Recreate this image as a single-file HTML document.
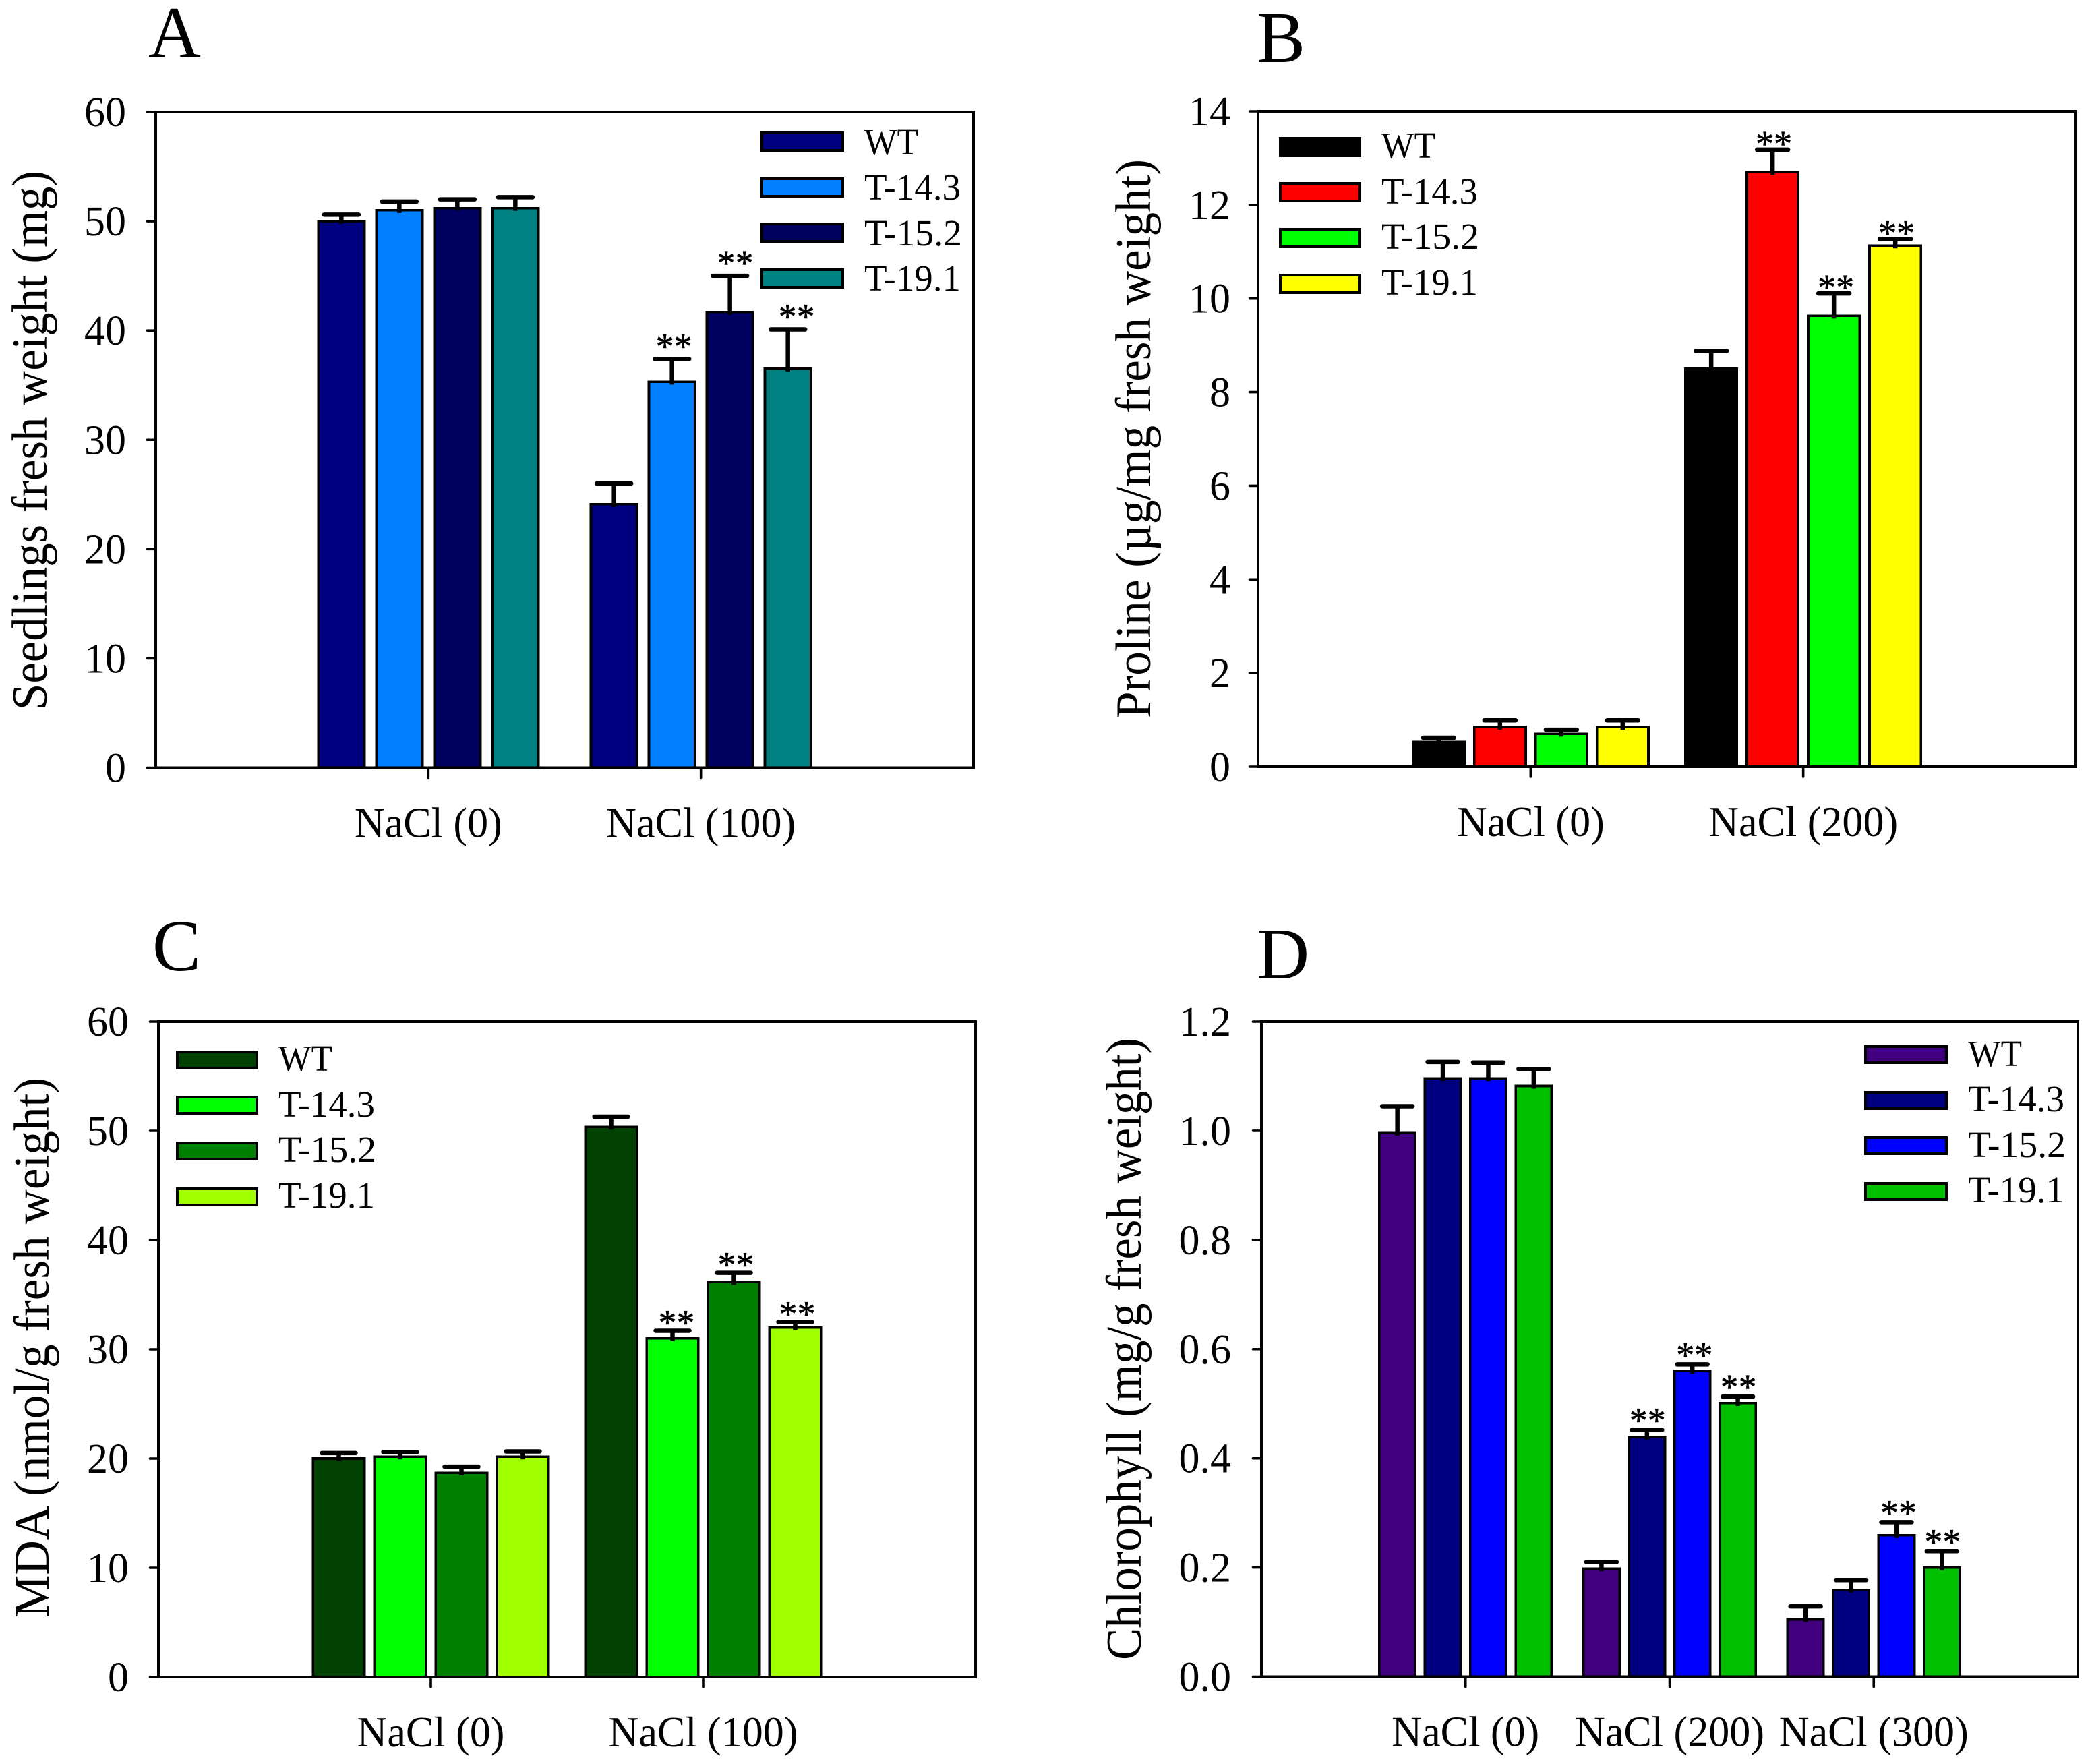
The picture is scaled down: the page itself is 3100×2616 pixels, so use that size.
<!DOCTYPE html>
<html lang="en">
<head>
<meta charset="utf-8">
<title>Seedling salt stress bar charts</title>
<style>
html,body{margin:0;padding:0;background:#fff;}
svg{display:block;}
text{font-family:"Liberation Serif",serif;fill:#000;}
.letter{font-size:108px;}
.title{font-size:74px;}
.leg{font-size:55px;}
.tick{font-size:62px;text-anchor:end;}
.cat{font-size:64px;text-anchor:middle;}
.star{font-size:54px;text-anchor:middle;stroke:#000;stroke-width:0.6;}
.sw{stroke:#000;stroke-width:3.6;shape-rendering:crispEdges;}
.frame{fill:none;stroke:#000;stroke-width:3.6;shape-rendering:crispEdges;}
</style>
</head>
<body>
<svg id="fig" xmlns="http://www.w3.org/2000/svg" width="3100" height="2616" viewBox="0 0 3100 2616">
<rect width="3100" height="2616" fill="#fff"/>

<g id="panel-a">
<text class="letter" x="220" y="84">A</text>
<text class="title" x="69" y="1053" transform="rotate(-90 69 1053)" textLength="800" lengthAdjust="spacingAndGlyphs">Seedlings fresh weight (mg)</text>
<g>
<rect class="sw" x="1130" y="197" width="120" height="26" fill="#000080"/>
<text class="leg" x="1282" y="229" textLength="80" lengthAdjust="spacingAndGlyphs">WT</text>
<rect class="sw" x="1130" y="265" width="120" height="26" fill="#0080ff"/>
<text class="leg" x="1282" y="296" textLength="143" lengthAdjust="spacingAndGlyphs">T-14.3</text>
<rect class="sw" x="1130" y="332" width="120" height="26" fill="#000060"/>
<text class="leg" x="1282" y="364" textLength="145" lengthAdjust="spacingAndGlyphs">T-15.2</text>
<rect class="sw" x="1130" y="400" width="120" height="26" fill="#008080"/>
<text class="leg" x="1282" y="431" textLength="143" lengthAdjust="spacingAndGlyphs">T-19.1</text>
</g>
</g>

<g id="panel-b">
<text class="letter" x="1864" y="92">B</text>
<text class="title" x="1706" y="1065" transform="rotate(-90 1706 1065)" textLength="829" lengthAdjust="spacingAndGlyphs">Proline (µg/mg fresh weight)</text>
<g>
<rect class="sw" x="1899" y="205" width="118" height="26" fill="#000000"/>
<text class="leg" x="2049" y="234" textLength="80" lengthAdjust="spacingAndGlyphs">WT</text>
<rect class="sw" x="1899" y="272" width="118" height="26" fill="#ff0000"/>
<text class="leg" x="2049" y="302" textLength="143" lengthAdjust="spacingAndGlyphs">T-14.3</text>
<rect class="sw" x="1899" y="340" width="118" height="26" fill="#00ff00"/>
<text class="leg" x="2049" y="369" textLength="145" lengthAdjust="spacingAndGlyphs">T-15.2</text>
<rect class="sw" x="1899" y="408" width="118" height="26" fill="#ffff00"/>
<text class="leg" x="2049" y="437" textLength="143" lengthAdjust="spacingAndGlyphs">T-19.1</text>
</g>
</g>

<g id="panel-c">
<text class="letter" x="226" y="1439">C</text>
<text class="title" x="72" y="2399" transform="rotate(-90 72 2399)" textLength="801" lengthAdjust="spacingAndGlyphs">MDA (nmol/g fresh weight)</text>
<g>
<rect class="sw" x="263" y="1560" width="118" height="24" fill="#004000"/>
<text class="leg" x="413" y="1588" textLength="80" lengthAdjust="spacingAndGlyphs">WT</text>
<rect class="sw" x="263" y="1627" width="118" height="24" fill="#00ff00"/>
<text class="leg" x="413" y="1656" textLength="143" lengthAdjust="spacingAndGlyphs">T-14.3</text>
<rect class="sw" x="263" y="1695" width="118" height="24" fill="#008000"/>
<text class="leg" x="413" y="1723" textLength="145" lengthAdjust="spacingAndGlyphs">T-15.2</text>
<rect class="sw" x="263" y="1763" width="118" height="24" fill="#a0ff00"/>
<text class="leg" x="413" y="1791" textLength="143" lengthAdjust="spacingAndGlyphs">T-19.1</text>
</g>
</g>

<g id="panel-d">
<text class="letter" x="1864" y="1451">D</text>
<text class="title" x="1692" y="2462" transform="rotate(-90 1692 2462)" textLength="923" lengthAdjust="spacingAndGlyphs">Chlorophyll (mg/g fresh weight)</text>
<g>
<rect class="sw" x="2767" y="1552" width="120" height="24" fill="#400080"/>
<text class="leg" x="2919" y="1581" textLength="80" lengthAdjust="spacingAndGlyphs">WT</text>
<rect class="sw" x="2767" y="1620" width="120" height="24" fill="#000080"/>
<text class="leg" x="2919" y="1648" textLength="143" lengthAdjust="spacingAndGlyphs">T-14.3</text>
<rect class="sw" x="2767" y="1687" width="120" height="24" fill="#0000ff"/>
<text class="leg" x="2919" y="1716" textLength="145" lengthAdjust="spacingAndGlyphs">T-15.2</text>
<rect class="sw" x="2767" y="1755" width="120" height="24" fill="#00c000"/>
<text class="leg" x="2919" y="1783" textLength="143" lengthAdjust="spacingAndGlyphs">T-19.1</text>
</g>
</g>
</svg>

<script>
// ---------- Chart data ----------
const seriesNames = ['WT', 'T-14.3', 'T-15.2', 'T-19.1'];

const aCategories = ['NaCl (0)', 'NaCl (100)'];
const aTicks = ['0', '10', '20', '30', '40', '50', '60'];
const aValues = [[50, 51, 51.2, 51.2], [24.1, 35.3, 41.7, 36.5]];
const aErrors = [[0.6, 0.8, 0.8, 1.0], [1.9, 2.1, 3.3, 3.6]];
const aStars = [[], [1, 2, 3]];

const bCategories = ['NaCl (0)', 'NaCl (200)'];
const bTicks = ['0', '2', '4', '6', '8', '10', '12', '14'];
const bValues = [[0.53, 0.85, 0.7, 0.85], [8.5, 12.7, 9.63, 11.13]];
const bErrors = [[0.09, 0.14, 0.09, 0.14], [0.38, 0.48, 0.48, 0.14]];
const bStars = [[], [1, 2, 3]];

const cCategories = ['NaCl (0)', 'NaCl (100)'];
const cTicks = ['0', '10', '20', '30', '40', '50', '60'];
const cValues = [[20, 20.17, 18.7, 20.17], [50.36, 31, 36.15, 32]];
const cErrors = [[0.5, 0.43, 0.55, 0.48], [0.94, 0.7, 0.85, 0.5]];
const cStars = [[], [1, 2, 3]];

const dCategories = ['NaCl (0)', 'NaCl (200)', 'NaCl (300)'];
const dTicks = ['0.0', '0.2', '0.4', '0.6', '0.8', '1.0', '1.2'];
const dValues = [[0.996, 1.096, 1.096, 1.082], [0.198, 0.439, 0.56, 0.501], [0.105, 0.159, 0.259, 0.2]];
const dErrors = [[0.049, 0.03, 0.029, 0.031], [0.012, 0.013, 0.012, 0.012], [0.024, 0.018, 0.024, 0.03]];
const dStars = [[], [1, 2, 3], [2, 3]];

// ---------- Per-panel series styling and layout ----------
const aColors = ['#000080', '#0080ff', '#000060', '#008080'];
const bColors = ['#000000', '#ff0000', '#00ff00', '#ffff00'];
const cColors = ['#004000', '#00ff00', '#008000', '#a0ff00'];
const dColors = ['#400080', '#000080', '#0000ff', '#00c000'];

const NS = 'http://www.w3.org/2000/svg';

function drawPanel(p) {
  const root = document.getElementById(p.id);
  const yScale = v => p.bottom - (v / p.max) * (p.bottom - p.top);
  const xScale = g => p.left + (g + 1) * (p.right - p.left) / (p.categories.length + 1);

  const marks = document.createElementNS(NS, 'g');
  
  
  root.insertBefore(marks, root.firstChild);

  p.values.forEach((groupValues, g) => {
    groupValues.forEach((value, s) => {
      const cx = xScale(g) + (s - 1.5) * p.step;
      const topY = yScale(value);
      const capY = yScale(value + p.errors[g][s]);

      const stem = document.createElementNS(NS, 'line');
      stem.setAttribute('x1', cx);
      stem.setAttribute('x2', cx);
      stem.setAttribute('y1', topY + 4);
      stem.setAttribute('y2', capY);
      stem.setAttribute('stroke', '#000');
      stem.setAttribute('stroke-width', p.errWidth);
      
      

      const cap = document.createElementNS(NS, 'line');
      cap.setAttribute('x1', cx - p.capHalf);
      cap.setAttribute('x2', cx + p.capHalf);
      cap.setAttribute('y1', capY);
      cap.setAttribute('y2', capY);
      cap.setAttribute('stroke', '#000');
      cap.setAttribute('stroke-width', p.errWidth);
      cap.setAttribute('stroke-linecap', 'round');
      
      

      const bar = document.createElementNS(NS, 'rect');
      bar.setAttribute('x', cx - p.barWidth / 2 + 1.8);
      bar.setAttribute('y', topY);
      bar.setAttribute('width', p.barWidth - 3.6);
      bar.setAttribute('height', p.bottom - topY);
      bar.setAttribute('fill', p.colors[s]);
      bar.setAttribute('stroke', '#000');
      bar.setAttribute('stroke-width', 3.6);
      bar.setAttribute('shape-rendering', 'crispEdges');
      
      

      marks.appendChild(bar);
      marks.appendChild(stem);
      marks.appendChild(cap);

      if (p.stars[g].indexOf(s) >= 0) {
        const star = document.createElementNS(NS, 'text');
        star.setAttribute('class', 'star');
        star.setAttribute('x', cx + p.starDx[s]);
        star.setAttribute('y', capY + p.starDy);
        
        
        star.textContent = '**';
        marks.appendChild(star);
      }
    });
  });

  const frame = document.createElementNS(NS, 'rect');
  frame.setAttribute('class', 'frame');
  frame.setAttribute('x', p.left);
  frame.setAttribute('y', p.top);
  frame.setAttribute('width', p.right - p.left);
  frame.setAttribute('height', p.bottom - p.top);
  
  
  root.appendChild(frame);

  p.ticks.forEach((label, i) => {
    const y = yScale(Number(label));

    const tick = document.createElementNS(NS, 'line');
    tick.setAttribute('x1', p.left - 12.5);
    tick.setAttribute('x2', p.left);
    tick.setAttribute('y1', y);
    tick.setAttribute('y2', y);
    tick.setAttribute('stroke', '#000');
    tick.setAttribute('stroke-width', 3.6);
    tick.setAttribute('stroke-linecap', 'round');
    
    
    root.appendChild(tick);

    const text = document.createElementNS(NS, 'text');
    text.setAttribute('class', 'tick');
    text.setAttribute('x', p.left - p.tickGap);
    text.setAttribute('y', y + 21);
    
    
    text.textContent = label;
    root.appendChild(text);
  });

  p.categories.forEach((label, g) => {
    const x = xScale(g);

    const tick = document.createElementNS(NS, 'line');
    tick.setAttribute('x1', x);
    tick.setAttribute('x2', x);
    tick.setAttribute('y1', p.bottom);
    tick.setAttribute('y2', p.bottom + 15);
    tick.setAttribute('stroke', '#000');
    tick.setAttribute('stroke-width', 3.6);
    tick.setAttribute('stroke-linecap', 'round');
    
    
    root.appendChild(tick);

    const text = document.createElementNS(NS, 'text');
    text.setAttribute('class', 'cat');
    text.setAttribute('x', x);
    text.setAttribute('y', p.bottom + 103);
    
    
    text.textContent = label;
    root.appendChild(text);
    text.setAttribute('textLength', (text.getComputedTextLength() * 0.97).toFixed(1));
    text.setAttribute('lengthAdjust', 'spacingAndGlyphs');
  });
}

drawPanel({ id: 'panel-a', left: 231, right: 1444, top: 166, bottom: 1138.5, max: 60,
  step: 86, barWidth: 72, capHalf: 25.5, errWidth: 6.5, starDx: [0, 3, 8, 13], starDy: -1, tickGap: 44,
  categories: aCategories, ticks: aTicks, values: aValues, errors: aErrors, stars: aStars, colors: aColors });

drawPanel({ id: 'panel-b', left: 1866, right: 3079, top: 165, bottom: 1137, max: 14,
  step: 91, barWidth: 80, capHalf: 23, errWidth: 6.5, starDx: [0, 2, 3, 2], starDy: 9, tickGap: 41,
  categories: bCategories, ticks: bTicks, values: bValues, errors: bErrors, stars: bStars, colors: bColors });

drawPanel({ id: 'panel-c', left: 235, right: 1447, top: 1515, bottom: 2487, max: 60,
  step: 91, barWidth: 80, capHalf: 25, errWidth: 6.5, starDx: [0, 6, 3, 3], starDy: 6, tickGap: 44,
  categories: cCategories, ticks: cTicks, values: cValues, errors: cErrors, stars: cStars, colors: cColors });

drawPanel({ id: 'panel-d', left: 1871, right: 3082, top: 1515, bottom: 2486.5, max: 1.2,
  step: 67.4, barWidth: 57, capHalf: 22.5, errWidth: 6.5, starDx: [0, 1, 3, 1], starDy: 4, tickGap: 45,
  categories: dCategories, ticks: dTicks, values: dValues, errors: dErrors, stars: dStars, colors: dColors });
</script>
</body>
</html>
